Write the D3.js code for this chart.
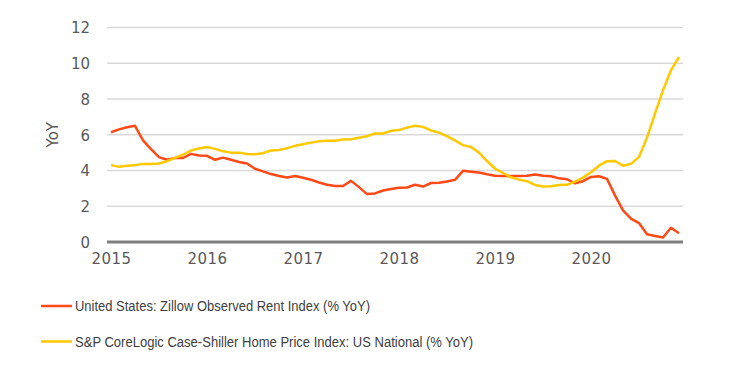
<!DOCTYPE html>
<html><head><meta charset="utf-8">
<script src="https://cdn.jsdelivr.net/npm/d3@7"></script>
<style>
html,body{margin:0;padding:0;background:#fff;}
svg{display:block;}
text{font-family:"Liberation Sans Narrow","Liberation Sans",Arial,sans-serif;}
</style></head><body>
<svg id="c" width="740" height="366"></svg>
<script>
const yearLabels = ["2015","2016","2017","2018","2019","2020"];
const yTicks = [0,2,4,6,8,10,12];
const seriesNames = ["United States: Zillow Observed Rent Index (% YoY)",
  "S&P CoreLogic Case-Shiller Home Price Index: US National (% YoY)"];
// monthly, Jan 2015 .. Dec 2020
const rentYoY = [6.14,6.3,6.42,6.5,5.68,5.2,4.75,4.6,4.7,4.7,4.93,4.84,
  4.82,4.6,4.72,4.6,4.48,4.39,4.1,3.95,3.8,3.69,3.61,3.69,
  3.59,3.48,3.33,3.2,3.13,3.13,3.42,3.07,2.68,2.72,2.88,2.96,
  3.03,3.05,3.2,3.1,3.3,3.31,3.39,3.48,3.98,3.93,3.89,3.79,
  3.71,3.69,3.69,3.69,3.71,3.77,3.71,3.68,3.56,3.51,3.28,3.4,
  3.64,3.68,3.53,2.61,1.77,1.31,1.06,0.43,0.34,0.25,0.8,0.49];
const hpiYoY = [4.3,4.21,4.26,4.3,4.37,4.37,4.39,4.52,4.71,4.88,5.12,5.23,
  5.31,5.21,5.08,5.0,5.0,4.92,4.91,4.97,5.12,5.15,5.25,5.38,
  5.47,5.56,5.64,5.66,5.67,5.73,5.75,5.83,5.92,6.07,6.07,6.22,
  6.26,6.4,6.5,6.44,6.24,6.12,5.92,5.68,5.42,5.31,5.0,4.53,
  4.11,3.86,3.62,3.49,3.4,3.19,3.1,3.12,3.19,3.2,3.38,3.6,
  3.9,4.27,4.52,4.53,4.27,4.37,4.76,5.84,7.18,8.49,9.61,10.35];
const legendWidths = [295, 398];

const svg = d3.select("#c");
const x = d3.scaleLinear().domain([-0.5, 71.5]).range([107, 683]);
const y = d3.scaleLinear().domain([0, 12]).range([242, 27.5]);

// gridlines
svg.append("g").selectAll("line").data(yTicks.filter(d=>d>0)).join("line")
  .attr("x1", 107).attr("x2", 683)
  .attr("y1", d=>y(d)).attr("y2", d=>y(d))
  .attr("stroke", "#d9d9d9").attr("stroke-width", 1.5);

// y axis labels
const yAxis = d3.axisLeft(y).tickValues(yTicks).tickSize(0).tickPadding(0).tickFormat(d3.format("d"));
const gy = svg.append("g").attr("transform", "translate(90,0)").call(yAxis);
gy.select(".domain").remove();
gy.selectAll("text").attr("font-size", 15).attr("fill", "#595959")
  .style("font-family", "'DejaVu Sans', Verdana, sans-serif").attr("dy", "0.35em");

// x axis labels
const xAxis = d3.axisBottom(x).tickValues(yearLabels.map((d,i)=>i*12)).tickSize(0).tickPadding(0)
  .tickFormat((d,i)=>yearLabels[i]);
const gx = svg.append("g").attr("transform", "translate(0,259)").call(xAxis);
gx.select(".domain").remove();
gx.selectAll("text").attr("font-size", 15).attr("fill", "#595959")
  .style("font-family", "'DejaVu Sans', Verdana, sans-serif").attr("dy", "0.35em").attr("letter-spacing", 0.5);

// zero axis line
svg.append("line").attr("x1", 107).attr("x2", 683).attr("y1", y(0)).attr("y2", y(0))
  .attr("stroke", "#7f7f7f").attr("stroke-width", 3);

// y title
svg.append("text").attr("transform", `translate(58,${y(6)}) rotate(-90)`)
  .attr("text-anchor", "middle").attr("font-size", 15).attr("fill", "#595959")
  .style("font-family", "'DejaVu Sans', Verdana, sans-serif").text("YoY");

const line = d3.line().x((d,i)=>x(i)).y(d=>y(d));
const colors = ["#ff4a17", "#ffc800"];
[rentYoY, hpiYoY].forEach((s, k) => {
  svg.append("path").datum(s).attr("d", line).attr("fill", "none")
    .attr("stroke", colors[k]).attr("stroke-width", 2.5).attr("stroke-linejoin", "round");
});

// legend
const legY = [306, 341.5];
seriesNames.forEach((n, k) => {
  svg.append("line").attr("x1", 41).attr("x2", 72).attr("y1", legY[k]).attr("y2", legY[k])
    .attr("stroke", colors[k]).attr("stroke-width", 2.5);
  svg.append("text").attr("x", 75).attr("y", legY[k]).attr("dy", "0.35em")
    .attr("font-size", 15.5).attr("fill", "#404040")
    .attr("textLength", legendWidths[k]).attr("lengthAdjust", "spacingAndGlyphs").text(n);
});
</script>
</body></html>
